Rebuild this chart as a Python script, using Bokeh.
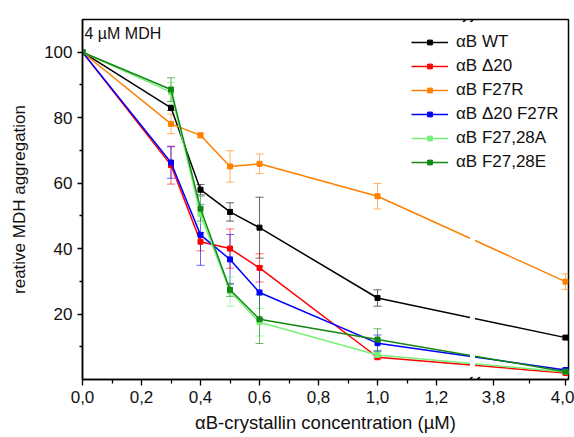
from bokeh.plotting import figure
from bokeh.models import (ColumnDataSource, FixedTicker, CustomJSTickFormatter, Whisker,
                          TeeHead, Legend, LegendItem, Label, BoxAnnotation, Range1d,
                          PolyAnnotation)
from bokeh.embed import file_html
from bokeh.resources import INLINE

# ---------------- data ----------------
conc = [0.0, 0.3, 0.4, 0.5, 0.6, 1.0, 4.0]

names = ["αB WT", "αB Δ20", "αB F27R", "αB Δ20 F27R", "αB F27,28A", "αB F27,28E"]

wt = [100, 83.0, 58.0, 51.2, 46.4, 24.9, 12.8]
wt_err = [0, 0.8, 1.6, 2.8, 9.3, 2.5, 0.5]

d20 = [100, 65.5, 42.1, 40.0, 34.1, 6.8, 2.0]
d20_err = [0, 5.8, 2.8, 6.0, 4.3, 0.5, 0.3]

f27r = [100, 78.1, 74.6, 65.1, 65.9, 56.0, 29.9]
f27r_err = [0, 3.0, 0.7, 4.8, 3.0, 3.9, 2.4]

d20f27r = [100, 66.3, 44.2, 36.7, 26.6, 11.1, 2.9]
d20f27r_err = [0, 4.8, 9.3, 7.6, 8.0, 2.5, 0.5]

f2728a = [100, 87.8, 50.5, 26.9, 17.5, 7.5, 2.3]
f2728a_err = [0, 3.0, 3.0, 4.5, 4.2, 0.8, 0.3]

f2728e = [100, 88.6, 52.2, 27.4, 18.4, 12.2, 2.4]
f2728e_err = [0, 3.6, 3.8, 2.0, 7.4, 3.3, 0.3]

colors = ["#000000", "#ff0000", "#ff8000", "#0000ff", "#77f077", "#118811"]

x_major = [0.0, 0.2, 0.4, 0.6, 0.8, 1.0, 1.2, 3.8, 4.0]
x_major_labels = ["0,0", "0,2", "0,4", "0,6", "0,8", "1,0", "1,2", "3,8", "4,0"]
x_minor = [0.1, 0.3, 0.5, 0.7, 0.9, 1.1, 3.9]
y_major = [20, 40, 60, 80, 100]
y_minor = [10, 30, 50, 70, 90]

# ---------------- broken x axis: segment 0..1.32 and 3.75..4.01 ----------------
L_SCALE = 295.0     # px per unit, left segment
R_SCALE = 360.0     # px per unit, right segment
R_OFFSET = 411.0    # px from frame left where 3.8 sits


def brk(x):
    if x <= 2.0:
        return x
    return (R_OFFSET + R_SCALE * (x - 3.8)) / L_SCALE


FRAME_W = 486
FRAME_H = 360

p = figure(width=574, height=437, output_backend="svg", toolbar_location=None,
           x_range=Range1d(0, FRAME_W / L_SCALE), y_range=Range1d(0, 110),
           min_border_left=82, min_border_right=6, min_border_top=19, min_border_bottom=58)
p.xgrid.visible = False
p.ygrid.visible = False
p.outline_line_color = "black"
p.outline_line_width = 1.5
p.background_fill_color = "white"
p.border_fill_color = "white"

FONT = "Liberation Sans"

series = [(wt, wt_err), (d20, d20_err), (f27r, f27r_err), (d20f27r, d20f27r_err),
          (f2728a, f2728a_err), (f2728e, f2728e_err)]

xd = [brk(c) for c in conc]
items = []
whiskers = []
for name, (vals, errs), col in zip(names, series, colors):
    src = ColumnDataSource(dict(x=xd, y=vals,
                                lo=[v - e for v, e in zip(vals, errs)],
                                hi=[v + e for v, e in zip(vals, errs)]))
    ln = p.line("x", "y", source=src, line_color=col, line_width=1.5)
    sc = p.scatter("x", "y", source=src, marker="square", size=5,
                   fill_color=col, line_color=col)
    items.append(LegendItem(label=name, renderers=[ln, sc]))
    esrc = ColumnDataSource(dict(x=xd[1:], lo=src.data["lo"][1:], hi=src.data["hi"][1:]))
    w = Whisker(base="x", lower="lo", upper="hi", source=esrc, dimension="height",
                line_color=col, line_alpha=0.6, line_width=1,
                upper_head=TeeHead(size=8, line_color=col, line_alpha=0.6, line_width=1),
                lower_head=TeeHead(size=8, line_color=col, line_alpha=0.6, line_width=1))
    whiskers.append(w)

for w in whiskers:
    p.add_layout(w)


def px2x(px):
    return (px - 82) / L_SCALE


def py2y(py):
    return (379 - py) / 3.2727


# gap in the data lines at the axis break
p.add_layout(BoxAnnotation(left=px2x(469.5), right=px2x(474.5), bottom=0.6, top=109.4,
                           fill_color="white", fill_alpha=1.0, line_alpha=0))

# break marks "//" at top and bottom: two slanted bars each
for (x0, x1) in [(463.0, 471.5), (470.5, 479.0)]:
    for (y0, y1) in [(387.5, 376.5), (21.5, 10.5)]:
        xs = [px2x(x0 - 1.0), px2x(x0 + 1.0), px2x(x1 + 1.0), px2x(x1 - 1.0)]
        ys = [py2y(y0), py2y(y0), py2y(y1), py2y(y1)]
        p.add_layout(PolyAnnotation(xs=xs, ys=ys, fill_color="black", fill_alpha=1.0,
                                    line_color="black", line_width=0.5, level="overlay"))

# axes
p.xaxis.ticker = FixedTicker(ticks=[brk(v) for v in x_major], minor_ticks=[brk(v) for v in x_minor])
p.xaxis.formatter = CustomJSTickFormatter(
    args=dict(pos=[brk(v) for v in x_major], lab=x_major_labels),
    code="for (let i = 0; i < pos.length; i++) { if (Math.abs(pos[i] - tick) < 1e-6) return lab[i]; } return '';")
p.yaxis.ticker = FixedTicker(ticks=y_major, minor_ticks=y_minor)

for ax in (p.xaxis, p.yaxis):
    ax.axis_line_width = 1.5
    ax.major_tick_line_width = 1.3
    ax.minor_tick_line_width = 1.3
    ax.major_tick_in = 0
    ax.minor_tick_in = 0
    ax.major_label_text_font = FONT
    ax.major_label_text_font_size = "17px"
    ax.major_label_text_color = "#111111"
    ax.axis_label_text_font = FONT
    ax.axis_label_text_font_style = "normal"
    ax.axis_label_text_color = "#111111"

p.xaxis.axis_label_text_font_size = "18.5px"
p.yaxis.axis_label_text_font_size = "17px"
p.xaxis.major_tick_out = 6
p.xaxis.minor_tick_out = 4
p.yaxis.major_tick_out = 5
p.yaxis.minor_tick_out = 3
p.xaxis.major_label_standoff = 5
p.yaxis.major_label_standoff = 5
p.xaxis.axis_label_standoff = 6
p.yaxis.axis_label_standoff = 12
p.xaxis.axis_label = "αB-crystallin concentration (µM)"
p.yaxis.axis_label = "reative MDH aggregation"

p.add_layout(Label(x=px2x(84), y=py2y(33), text="4 µM MDH", text_font=FONT,
                   text_font_size="16px", text_baseline="middle", text_align="left",
                   text_color="#111111"))

legend = Legend(items=items, location=(329, 207), border_line_color=None,
                background_fill_alpha=0, padding=0, margin=0, spacing=4,
                glyph_width=37, glyph_height=12, label_height=20, label_standoff=8,
                label_text_font=FONT, label_text_font_size="17px", label_text_color="#111111")
p.add_layout(legend)

open("out.html", "w").write(file_html(p, INLINE))
